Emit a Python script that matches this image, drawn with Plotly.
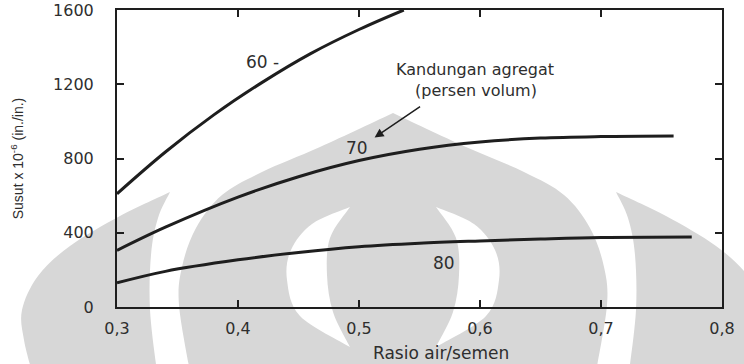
import base64
import plotly.graph_objects as go

# Shrinkage (x 10^-6 in./in.) against water/cement ratio for three aggregate contents
ratio_60 = [0.30, 0.34, 0.38, 0.42, 0.46, 0.50, 0.537]
shrink_60 = [610, 835, 1035, 1210, 1365, 1495, 1600]

ratio_70 = [0.30, 0.34, 0.40, 0.45, 0.50, 0.55, 0.60, 0.65, 0.70, 0.76]
shrink_70 = [305, 430, 592, 702, 789, 850, 889, 910, 918, 921]

ratio_80 = [0.30, 0.34, 0.40, 0.45, 0.50, 0.55, 0.60, 0.65, 0.70, 0.775]
shrink_80 = [130, 192, 254, 294, 325, 344, 356, 366, 374, 377]

x_ticks = [0.3, 0.4, 0.5, 0.6, 0.7, 0.8]
x_labels = ["0,3", "0,4", "0,5", "0,6", "0,7", "0,8"]
y_ticks = [0, 400, 800, 1200, 1600]
y_labels = ["0", "400", "800", "1200", "1600"]

W, H = 744, 364
M = dict(l=117, r=22, t=10, b=57)
PW, PH = W - M["l"] - M["r"], H - M["t"] - M["b"]

INK = "#1e1e1e"
TXT = "#2e2e2e"
FONT = "DejaVu Sans"


def smooth(points, closed=False):
    """Catmull-Rom spline through points, as an SVG path string."""
    pts = list(points)
    n = len(pts)
    d = "M %.1f %.1f" % pts[0]
    rng = range(n if closed else n - 1)
    for i in rng:
        p0 = pts[(i - 1) % n] if (closed or i > 0) else pts[i]
        p1 = pts[i % n]
        p2 = pts[(i + 1) % n]
        p3 = pts[(i + 2) % n] if (closed or i + 2 < n) else pts[(i + 1) % n]
        c1 = (p1[0] + (p2[0] - p0[0]) / 6, p1[1] + (p2[1] - p0[1]) / 6)
        c2 = (p2[0] - (p3[0] - p1[0]) / 6, p2[1] - (p3[1] - p1[1]) / 6)
        d += " C %.1f %.1f, %.1f %.1f, %.1f %.1f" % (c1 + c2 + p2)
    return d


def mirror(points, cx=393):
    return [(2 * cx - x, y) for x, y in points]


# Background emblem: a pointed arch flanked by crescents
outer_edge = [(170, 192), (120, 216), (70, 246), (38, 276), (22, 310), (24, 340), (32, 372)]
inner_edge = [(157, 372), (150, 310), (151, 255), (158, 218), (170, 192)]
arch_left = [(393, 113), (320, 147), (262, 172), (222, 195), (196, 228), (182, 267), (179, 305), (190, 372)]
cres_out = [(350, 207), (312, 224), (291, 250), (287, 280), (300, 316), (350, 347)]
cres_in = [(350, 347), (333, 312), (327, 275), (330, 238), (350, 207)]


def crescent_path(edge_a, edge_b):
    a = smooth(edge_a)
    b = smooth(edge_b)
    return a + " L" + b[1:] + " Z"


left_cres = crescent_path(outer_edge, inner_edge)
right_cres = crescent_path(mirror(outer_edge), mirror(inner_edge))
arch = smooth(arch_left) + " L" + smooth(list(reversed(mirror(arch_left))))[1:] + " Z"
hole_l = crescent_path(cres_out, cres_in)
hole_r = crescent_path(mirror(cres_out), mirror(cres_in))

svg = (
    '<svg xmlns="http://www.w3.org/2000/svg" width="%d" height="%d" viewBox="0 0 %d %d">'
    '<g fill="#d7d7d7"><path d="%s"/><path d="%s"/><path d="%s"/></g>'
    '<g fill="#ffffff"><path d="%s"/><path d="%s"/></g></svg>'
) % (W, H, W, H, left_cres, right_cres, arch, hole_l, hole_r)
emblem = "data:image/svg+xml;base64," + base64.b64encode(svg.encode()).decode()

fig = go.Figure()
for xs, ys in [(ratio_60, shrink_60), (ratio_70, shrink_70), (ratio_80, shrink_80)]:
    fig.add_trace(go.Scatter(
        x=xs, y=ys, mode="lines",
        line=dict(color=INK, width=3, shape="spline", smoothing=1.0),
        showlegend=False, hoverinfo="skip",
    ))

fig.add_layout_image(dict(
    source=emblem, xref="paper", yref="paper",
    x=-M["l"] / PW, y=1 + M["t"] / PH,
    sizex=W / PW, sizey=H / PH,
    xanchor="left", yanchor="top", sizing="stretch", layer="below",
))

curve_font = dict(family=FONT, size=17, color=TXT)
fig.add_annotation(x=0.42, y=1321, text="60 -", showarrow=False, font=curve_font)
fig.add_annotation(x=0.498, y=859, text="70", showarrow=False, font=curve_font)
fig.add_annotation(x=0.5706, y=236, text="80", showarrow=False, font=curve_font)
note_font = dict(family=FONT, size=16, color=TXT)
fig.add_annotation(x=0.596, y=1278, text="Kandungan agregat", showarrow=False, font=note_font)
fig.add_annotation(x=0.597, y=1165, text="(persen volum)", showarrow=False, font=note_font)
fig.add_annotation(x=0.5129, y=913, ax=0.5517, ay=1085, axref="x", ayref="y",
                   text="", showarrow=True, arrowhead=2, arrowsize=1.2,
                   arrowwidth=1.5, arrowcolor=INK)
# x-axis caption, set a little right of the plot centre
fig.add_annotation(xref="paper", yref="paper", x=(441 - M["l"]) / PW, y=-46 / PH,
                   yanchor="middle", text="Rasio air/semen", showarrow=False,
                   font=dict(family=FONT, size=17, color=TXT))

axis_common = dict(
    ticks="inside", ticklen=7, tickwidth=1.5, tickcolor=INK,
    showline=True, linewidth=2, linecolor=INK, mirror="ticks",
    showgrid=False, zeroline=False, automargin=False,
    tickfont=dict(family=FONT, size=16, color=TXT),
)

fig.update_xaxes(
    range=[0.3, 0.8], tickvals=x_ticks, ticktext=x_labels,
    ticklabelstandoff=6,
    **axis_common,
)
fig.update_yaxes(
    range=[0, 1600], tickvals=y_ticks, ticktext=y_labels,
    ticklabelstandoff=18,
    title=dict(text="Susut x 10<sup>-6</sup> (in./in.)",
               font=dict(family="Liberation Sans", size=14, color=TXT),
               standoff=26),
    **axis_common,
)

fig.update_layout(
    width=W, height=H, margin=M,
    paper_bgcolor="white", plot_bgcolor="rgba(0,0,0,0)",
)

fig.write_html("out.html")
